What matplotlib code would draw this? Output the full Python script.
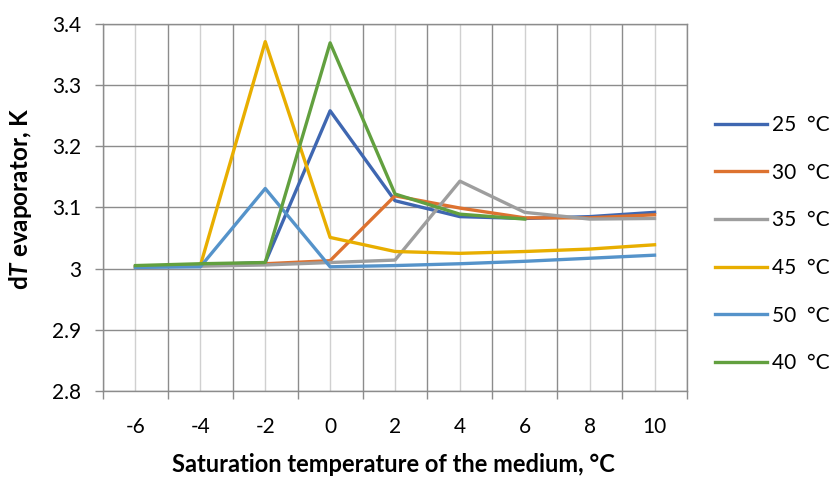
import matplotlib.pyplot as plt
from matplotlib.ticker import FixedLocator, NullFormatter

plt.rcParams['font.family'] = ['Lato', 'DejaVu Sans']
plt.rcParams['mathtext.fontset'] = 'custom'
plt.rcParams['mathtext.it'] = 'Lato:bold:italic'
plt.rcParams['mathtext.rm'] = 'Lato:bold'

# x categories (saturation temperature, °C)
temps = [-6, -4, -2, 0, 2, 4, 6, 8, 10]

# dT evaporator, K  -- one list per medium temperature
t25 = [3.003, 3.006, 3.010, 3.258, 3.111, 3.085, 3.082, 3.085, 3.092]
t30 = [3.003, 3.005, 3.008, 3.013, 3.119, 3.099, 3.083, 3.083, 3.088]
t35 = [3.003, 3.004, 3.006, 3.010, 3.014, 3.143, 3.092, 3.081, 3.082]
t45 = [3.003, 3.005, 3.371, 3.051, 3.028, 3.025, 3.028, 3.032, 3.039]
t50 = [3.002, 3.003, 3.131, 3.003, 3.005, 3.008, 3.012, 3.017, 3.022]
t40 = [3.005, 3.008, 3.010, 3.369, 3.122, 3.089, 3.081]

series = [
    ('25  °C', t25, '#3F67B1'),
    ('30  °C', t30, '#DD7230'),
    ('35  °C', t35, '#9E9E9E'),
    ('45  °C', t45, '#E8AE00'),
    ('50  °C', t50, '#5593CA'),
    ('40  °C', t40, '#62A03F'),
]

fig = plt.figure(figsize=(8.33, 4.78), dpi=100)
ax = fig.add_axes([0.1237, 0.182, 0.701, 0.768])

pos = list(range(len(temps)))
for label, vals, color in series:
    ax.plot(pos[:len(vals)], vals, color=color, linewidth=2.4, label=label)

ax.set_xlim(-0.5, len(temps) - 0.5)
ax.set_ylim(2.8, 3.4)

# category boundaries: dark grid + tick marks; category centers: light grid
ax.xaxis.set_major_locator(FixedLocator([p - 0.5 for p in range(len(temps) + 1)]))
ax.xaxis.set_major_formatter(NullFormatter())
ax.xaxis.set_minor_locator(FixedLocator(pos))
ax.set_xticklabels(temps, minor=True)
ax.tick_params(axis='x', which='major', length=6, color='#8C8C8C', width=1)
ax.tick_params(axis='x', which='minor', length=0, labelsize=15, pad=19)
ax.grid(True, axis='x', which='major', color='#8C8C8C', linewidth=1)
ax.grid(True, axis='x', which='minor', color='#D0D0D0', linewidth=1)

yt = [2.8, 2.9, 3.0, 3.1, 3.2, 3.3, 3.4]
ax.set_yticks(yt)
ax.set_yticklabels(['2.8', '2.9', '3', '3.1', '3.2', '3.3', '3.4'])
ax.tick_params(axis='y', length=6, color='#8C8C8C', width=1, labelsize=15, pad=10)
ax.grid(True, axis='y', color='#8C8C8C', linewidth=1)
ax.set_axisbelow(True)

for s in ax.spines.values():
    s.set_color('#8C8C8C')
    s.set_linewidth(1)

ax.set_xlabel('Saturation temperature of the medium, °C', fontsize=17,
              fontweight='bold')
ax.xaxis.set_label_coords(0.497, -0.17)
ax.set_ylabel(r'd$T$ evaporator, K', fontsize=17.5, fontweight='bold')
ax.yaxis.set_label_coords(-0.118, 0.525)

ax.legend(loc='center left', bbox_to_anchor=(1.048, 0.40), frameon=False,
          fontsize=15, labelspacing=1.33, handlelength=2.5, handletextpad=0.25,
          borderpad=0, borderaxespad=0)

fig.savefig('out.png', dpi=100)
